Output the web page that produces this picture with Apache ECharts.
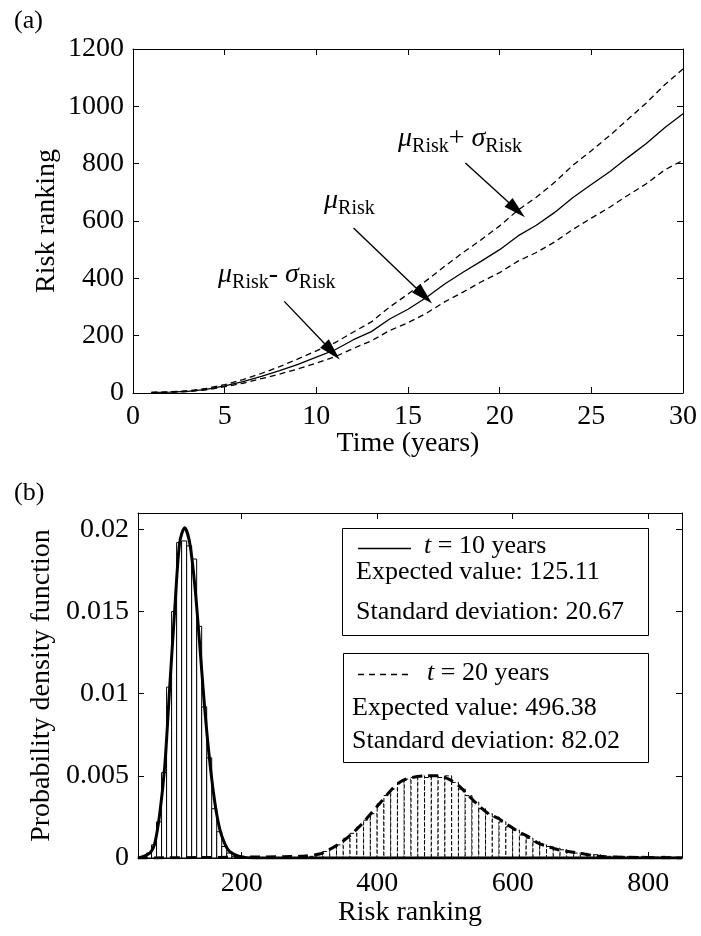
<!DOCTYPE html>
<html><head><meta charset="utf-8">
<script src="https://cdn.jsdelivr.net/npm/echarts@6/dist/echarts.min.js"></script>
<style>html,body{margin:0;padding:0;background:#fff}#c{width:701px;height:936px}</style>
</head><body><div id="c"></div>
<script>
// ---------- Panel (a): risk ranking over time ----------
const years = [1,2,3,4,5,6,7,8,9,10,11,12,13,14,15,16,17,18,19,20,21,22,23,24,25,26,27,28,29,30];
const riskMean  = [2,3,6,13,25,40,58,78,100,125,150,185,214,258,292,333,380,421,460,500,548,585,630,682,727,772,822,870,925,974];
const riskUpper = [2.5,4,8,16,29,47,68,92,119,147,175,212,248,300,345,392,442,490,535,583,638,683,735,795,845,898,955,1012,1075,1130];
const riskLower = [1.5,2.5,5,11,22,34,50,66,84,104,126,155,182,218,245,278,318,352,388,420,460,490,527,571,610,648,690,730,778,812];
const xTicksA = [0,5,10,15,20,25,30];
const yTicksA = [0,200,400,600,800,1000,1200];
// annotation arrows (data units): tail -> head
const arrowTails = [[18.13,802],[12.03,575.6],[8.25,319.6]];
const arrowHeads = [[20.93,639],[15.88,339],[10.86,145]];

// ---------- Panel (b): PDFs ----------
const hist10Centers = [63.3,70.7,78.1,85.5,92.9,100.3,107.7,115.1,122.5,129.9,137.3,144.7,152.1,159.5,166.9,174.3,181.7,189.1];
const hist10Density = [0.0003,0.0008,0.0022,0.0052,0.0104,0.0150,0.0192,0.0193,0.0190,0.0182,0.0141,0.0092,0.0061,0.0030,0.0016,0.0007,0.0003,0.0001];
const hist10BinWidth = 7.4;
const hist20Centers = [305,315,325,335,345,355,365,375,385,395,405,415,425,435,445,455,465,475,485,495,505,515,525,535,545,555,565,575,585,595,605,615,625,635,645,655,665,675,685,695,705,715,725,735,745,755,765,775,785,795,805,815,825,835,845];
const hist20Density = [0.0001,0.0002,0.0004,0.0006,0.0008,0.0012,0.0015,0.0019,0.0023,0.0027,0.0033,0.0038,0.0042,0.0046,0.0048,0.0049,0.0050,0.0049,0.0050,0.0049,0.0050,0.0046,0.0042,0.0038,0.0034,0.0030,0.0027,0.0025,0.0022,0.0019,0.0017,0.0014,0.0012,0.0010,0.0008,0.0007,0.0006,0.0005,0.0004,0.0003,0.0003,0.0002,0.0002,0.0001,0.0001,0.0001,0.0001,0.00005,0.00005,0.0001,0.00005,0.00005,0.0001,0.00005,0.00005];
const hist20BinWidth = 10;
const pdf10X = [47,64.4,71.8,79.1,86.5,93.8,101.2,108.5,115.9,123.2,130.6,137.9,145.3,152.6,160.0,167.4,174.7,182.1,196.8,220,850];
const pdf10Y = [0,0.0003,0.0009,0.0027,0.0056,0.0104,0.0151,0.0192,0.0201,0.0192,0.0167,0.0131,0.0092,0.0060,0.0035,0.0018,0.0009,0.0004,0.0001,0,0];
const pdf20X = [47,285,314.4,329.1,348.7,363.4,378.1,392.8,407.5,422.2,436.9,451.6,471.3,490.9,505.6,520.3,535,549.7,564.4,579.1,593.8,608.5,623.2,637.9,652.6,667.4,682.1,696.8,711.5,726.2,760,850];
const pdf20Y = [0,0.0001,0.00024,0.0005,0.001,0.0015,0.0021,0.0028,0.0035,0.0042,0.0047,0.0049,0.0050,0.0050,0.0048,0.0044,0.0038,0.0032,0.0027,0.0024,0.0020,0.0016,0.0013,0.0009,0.0007,0.0005,0.0004,0.0003,0.0002,0.0001,0.00005,0];
const xTicksB = [200,400,600,800];
const yTicksB = [0,0.005,0.01,0.015,0.02];

const FONT = '"Liberation Serif","Times New Roman",serif';
const chart = echarts.init(document.getElementById('c'));
const plain = v => String(v);

function axisBase(extra) {
  return Object.assign({
    type: 'value',
    nameMoveOverlap: false,
    axisLine: {show: true, onZero: false, lineStyle: {color: '#000', width: 1}},
    axisTick: {show: true, inside: true, length: 6, lineStyle: {color: '#000', width: 1}},
    splitLine: {show: false},
    axisLabel: {color: '#000', fontFamily: FONT, fontSize: 28, formatter: plain},
    nameTextStyle: {color: '#000', fontFamily: FONT, fontSize: 28}
  }, extra);
}

function histRender(binW, dashed) {
  return function (params, api) {
    const c = api.value(0), h = api.value(1);
    const p0 = api.coord([c - binW / 2, h]);
    const p1 = api.coord([c + binW / 2, 0]);
    return {
      type: 'rect',
      shape: {x: p0[0], y: p0[1], width: p1[0] - p0[0], height: p1[1] - p0[1]},
      style: {fill: '#fff', stroke: '#000', lineWidth: 1, lineDash: dashed ? [4, 2] : null}
    };
  };
}

const zip = (a, b) => a.map((v, i) => [v, b[i]]);

const rich = {
  g: {fontFamily: FONT, fontStyle: 'italic', fontSize: 28, lineHeight: 28, fill: '#000'},
  n: {fontFamily: FONT, fontSize: 28, lineHeight: 28, fill: '#000'},
  s: {fontFamily: FONT, fontSize: 20, lineHeight: 20, padding: [16, 0, 0, 0], fill: '#000'}
};
const legRich = {
  i: {fontFamily: FONT, fontStyle: 'italic', fontSize: 26, fill: '#000'},
  n: {fontFamily: FONT, fontSize: 26, fill: '#000'}
};
const txt = (x, y, t) => ({type: 'text', x: x, y: y, z: 11, style: {text: t, fontFamily: FONT, fontSize: 26, fill: '#000', verticalAlign: 'middle', align: 'left'}});

const option = {
  animation: false,
  backgroundColor: '#fff',
  grid: [
    {left: 133, top: 49, width: 550, height: 344},
    {left: 138, top: 513, width: 544, height: 345}
  ],
  xAxis: [
    axisBase({gridIndex: 0, min: 0, max: 30, interval: 5, position: 'bottom',
      name: 'Time (years)', nameLocation: 'middle', nameGap: 37,
      axisLabel: {color: '#000', fontFamily: FONT, fontSize: 28, margin: 10, formatter: plain}}),
    axisBase({gridIndex: 0, min: 0, max: 30, interval: 5, position: 'top', axisLabel: {show: false}}),
    axisBase({gridIndex: 1, min: 47, max: 850, position: 'bottom',
      name: 'Risk ranking', nameLocation: 'middle', nameGap: 41,
      axisTick: {show: true, inside: true, length: 6, customValues: xTicksB, lineStyle: {color: '#000'}},
      axisLabel: {color: '#000', fontFamily: FONT, fontSize: 28, margin: 12, customValues: xTicksB, formatter: plain}}),
    axisBase({gridIndex: 1, min: 47, max: 850, position: 'top',
      axisTick: {show: true, inside: true, length: 6, customValues: xTicksB, lineStyle: {color: '#000'}},
      axisLabel: {show: false}})
  ],
  yAxis: [
    axisBase({gridIndex: 0, min: 0, max: 1200, interval: 200, position: 'left',
      name: 'Risk ranking', nameLocation: 'middle', nameGap: 72, nameRotate: 90,
      axisLabel: {color: '#000', fontFamily: FONT, fontSize: 28, margin: 9, formatter: plain}}),
    axisBase({gridIndex: 0, min: 0, max: 1200, interval: 200, position: 'right', axisLabel: {show: false}}),
    axisBase({gridIndex: 1, min: 0, max: 0.021, position: 'left',
      name: 'Probability density function', nameLocation: 'middle', nameGap: 82, nameRotate: 90,
      axisTick: {show: true, inside: true, length: 6, customValues: yTicksB, lineStyle: {color: '#000'}},
      axisLabel: {color: '#000', fontFamily: FONT, fontSize: 28, margin: 9, customValues: yTicksB, formatter: plain}}),
    axisBase({gridIndex: 1, min: 0, max: 0.021, position: 'right',
      axisTick: {show: true, inside: true, length: 6, customValues: yTicksB, lineStyle: {color: '#000'}},
      axisLabel: {show: false}})
  ],
  series: [
    {type: 'line', xAxisIndex: 0, yAxisIndex: 0, data: zip(years, riskUpper), showSymbol: false,
      lineStyle: {color: '#000', width: 1.3, type: [6, 4]}},
    {type: 'line', xAxisIndex: 0, yAxisIndex: 0, data: zip(years, riskLower), showSymbol: false,
      lineStyle: {color: '#000', width: 1.3, type: [6, 4]}},
    {type: 'line', xAxisIndex: 0, yAxisIndex: 0, data: zip(years, riskMean), showSymbol: false,
      lineStyle: {color: '#000', width: 1.3},
      markLine: {
        silent: true, symbol: ['none', 'triangle'], symbolSize: [12, 22],
        lineStyle: {color: '#000', width: 1.4, type: 'solid'},
        itemStyle: {color: '#000'},
        label: {show: false},
        data: arrowTails.map((t, i) => [{coord: t}, {coord: arrowHeads[i]}])
      }},
    {type: 'custom', xAxisIndex: 2, yAxisIndex: 2, renderItem: histRender(hist10BinWidth, false),
      data: zip(hist10Centers, hist10Density)},
    {type: 'custom', xAxisIndex: 2, yAxisIndex: 2, renderItem: histRender(hist20BinWidth, true),
      data: zip(hist20Centers, hist20Density)},
    {type: 'line', xAxisIndex: 2, yAxisIndex: 2, data: zip(pdf10X, pdf10Y), showSymbol: false, smooth: 0.3,
      lineStyle: {color: '#000', width: 3}, z: 5},
    {type: 'line', xAxisIndex: 2, yAxisIndex: 2, data: zip(pdf20X, pdf20Y), showSymbol: false, smooth: 0.3,
      lineStyle: {color: '#000', width: 3, type: [10, 6]}, z: 5}
  ],
  graphic: [
    {type: 'text', x: 14, y: 21, style: {text: '(a)', fontFamily: FONT, fontSize: 26, fill: '#000', verticalAlign: 'middle'}},
    {type: 'text', x: 14, y: 493, style: {text: '(b)', fontFamily: FONT, fontSize: 26, fill: '#000', verticalAlign: 'middle'}},
    {type: 'text', x: 398, y: 125, style: {text: '{g|μ}{s|Risk}{n|+ }{g|σ}{s|Risk}', rich: rich, verticalAlign: 'top'}},
    {type: 'text', x: 324, y: 187, style: {text: '{g|μ}{s|Risk}', rich: rich, verticalAlign: 'top'}},
    {type: 'text', x: 218, y: 261, style: {text: '{g|μ}{s|Risk}{n|- }{g|σ}{s|Risk}', rich: rich, verticalAlign: 'top'}},
    {type: 'rect', shape: {x: 342.5, y: 528.5, width: 306, height: 107}, style: {fill: '#fff', stroke: '#000', lineWidth: 1}, z: 10},
    {type: 'line', shape: {x1: 358, y1: 548.5, x2: 411, y2: 548.5}, style: {stroke: '#000', lineWidth: 1.3}, z: 11},
    {type: 'text', x: 424, y: 546, z: 11, style: {text: '{i|t}{n| = 10 years}', rich: legRich, verticalAlign: 'middle'}},
    txt(356, 572, 'Expected value: 125.11'),
    txt(356, 612, 'Standard deviation: 20.67'),
    {type: 'rect', shape: {x: 343.5, y: 653.5, width: 305, height: 109}, style: {fill: '#fff', stroke: '#000', lineWidth: 1}, z: 10},
    {type: 'line', shape: {x1: 358, y1: 674.5, x2: 411, y2: 674.5}, style: {stroke: '#000', lineWidth: 1.3, lineDash: [6, 5]}, z: 11},
    {type: 'text', x: 427, y: 673, z: 11, style: {text: '{i|t}{n| = 20 years}', rich: legRich, verticalAlign: 'middle'}},
    txt(352, 708, 'Expected value: 496.38'),
    txt(352, 741, 'Standard deviation: 82.02')
  ]
};
chart.setOption(option);
</script>
</body></html>
